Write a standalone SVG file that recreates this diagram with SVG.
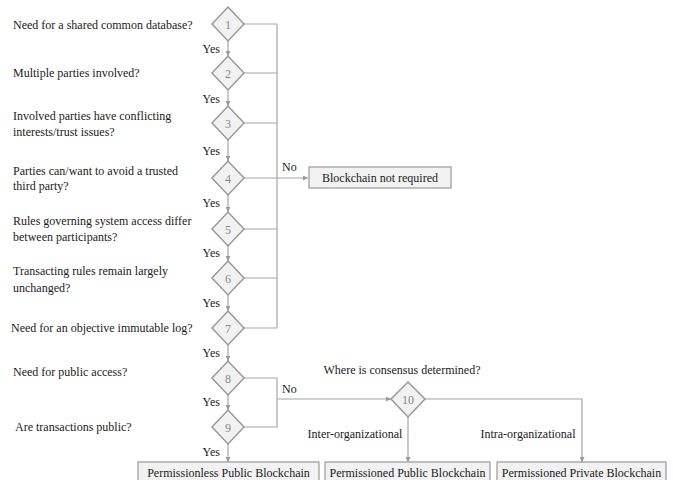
<svg xmlns="http://www.w3.org/2000/svg" width="673" height="480" viewBox="0 0 673 480">
<style>
text{font-family:"Liberation Serif","Times New Roman",serif;font-size:12px;fill:#1a1a1a}
.q{}
.y{text-anchor:end}
.n{text-anchor:middle;fill:#888;font-size:12px}
.d{fill:#f2f2f2;stroke:#999;stroke-width:1.5}
.b{fill:#f2f2f2;stroke:#999;stroke-width:1.2}
.bt{text-anchor:middle}
.c{fill:none;stroke:#a6a6a6;stroke-width:1.2}
.ca{fill:none;stroke:#a6a6a6;stroke-width:1.2;marker-end:url(#ah)}
</style>
<defs>
<marker id="ah" viewBox="0 0 6 6" refX="6" refY="3" markerWidth="5" markerHeight="5" orient="auto" markerUnits="userSpaceOnUse">
<path d="M0,0 L6,3 L0,6 z" fill="#999"/>
</marker>
</defs>
<rect width="673" height="480" fill="#fff"/>
<g id="connectors">
<path class="ca" d="M228,41 V56"/>
<path class="ca" d="M228,90 V106"/>
<path class="ca" d="M228,140 V161"/>
<path class="ca" d="M228,195 V212"/>
<path class="ca" d="M228,246 V261"/>
<path class="ca" d="M228,295 V311"/>
<path class="ca" d="M228,345 V361"/>
<path class="ca" d="M228,395 V410"/>
<path class="ca" d="M228,444 V462"/>
<path class="c" d="M244,24 H277 M244,73 H277 M244,123 H277 M244,229 H277 M244,278 H277 M244,328 H277 M277,24 V328"/>
<path class="ca" d="M244,178 H308"/>
<path class="c" d="M244,378 H277 V427 H244"/>
<path class="ca" d="M277,399 H391"/>
<path class="ca" d="M408,417 V462"/>
<path class="ca" d="M425,399 H582 V462"/>
</g>
<g id="q1"><text x="13" y="29">Need for a shared common database?</text></g>
<g id="q2"><text x="13" y="77">Multiple parties involved?</text></g>
<g id="q3"><text x="13" y="120">Involved parties have conflicting</text><text x="13" y="136">interests/trust issues?</text></g>
<g id="q4"><text x="13" y="175">Parties can/want to avoid a trusted</text><text x="13" y="190">third party?</text></g>
<g id="q5"><text x="13" y="225">Rules governing system access differ</text><text x="13" y="241">between participants?</text></g>
<g id="q6"><text x="13" y="275">Transacting rules remain largely</text><text x="13" y="292">unchanged?</text></g>
<g id="q7"><text x="11" y="332">Need for an objective immutable log?</text></g>
<g id="q8"><text x="13" y="376">Need for public access?</text></g>
<g id="q9"><text x="15" y="431">Are transactions public?</text></g>
<g id="yes-labels">
<text class="y" x="220" y="53">Yes</text>
<text class="y" x="220" y="103">Yes</text>
<text class="y" x="220" y="155">Yes</text>
<text class="y" x="220" y="207">Yes</text>
<text class="y" x="220" y="257">Yes</text>
<text class="y" x="220" y="307">Yes</text>
<text class="y" x="220" y="357">Yes</text>
<text class="y" x="220" y="406">Yes</text>
<text class="y" x="220" y="456">Yes</text>
</g>
<g id="d1"><path class="d" d="M228,7 L244,24 L228,41 L212,24 z"/><text class="n" x="228" y="28.5">1</text></g>
<g id="d2"><path class="d" d="M228,56 L244,73 L228,90 L212,73 z"/><text class="n" x="228" y="77.5">2</text></g>
<g id="d3"><path class="d" d="M228,106 L244,123 L228,140 L212,123 z"/><text class="n" x="228" y="127.5">3</text></g>
<g id="d4"><path class="d" d="M228,161 L244,178 L228,195 L212,178 z"/><text class="n" x="228" y="182.5">4</text></g>
<g id="d5"><path class="d" d="M228,212 L244,229 L228,246 L212,229 z"/><text class="n" x="228" y="233.5">5</text></g>
<g id="d6"><path class="d" d="M228,261 L244,278 L228,295 L212,278 z"/><text class="n" x="228" y="282.5">6</text></g>
<g id="d7"><path class="d" d="M228,311 L244,328 L228,345 L212,328 z"/><text class="n" x="228" y="332.5">7</text></g>
<g id="d8"><path class="d" d="M228,361 L244,378 L228,395 L212,378 z"/><text class="n" x="228" y="382.5">8</text></g>
<g id="d9"><path class="d" d="M228,410 L244,427 L228,444 L212,427 z"/><text class="n" x="228" y="431.5">9</text></g>
<g id="d10"><path class="d" d="M408,382 L425,399 L408,417 L391,399 z"/><text class="n" x="408" y="403.5">10</text></g>
<g id="labels">
<text x="282" y="171">No</text>
<text x="282" y="393">No</text>
<text class="bt" x="402" y="374">Where is consensus determined?</text>
<text class="bt" x="355" y="438">Inter-organizational</text>
<text class="bt" x="528" y="438">Intra-organizational</text>
</g>
<g id="not-required"><rect class="b" x="309" y="167" width="142" height="21"/><text class="bt" x="380" y="182">Blockchain not required</text></g>
<g id="permissionless"><rect class="b" x="138" y="462" width="181" height="24"/><text class="bt" x="228.5" y="477">Permissionless Public Blockchain</text></g>
<g id="perm-public"><rect class="b" x="325" y="462" width="165" height="24"/><text class="bt" x="407.5" y="477">Permissioned Public Blockchain</text></g>
<g id="perm-private"><rect class="b" x="497" y="462" width="169" height="24"/><text class="bt" x="581.5" y="477">Permissioned Private Blockchain</text></g>
</svg>
